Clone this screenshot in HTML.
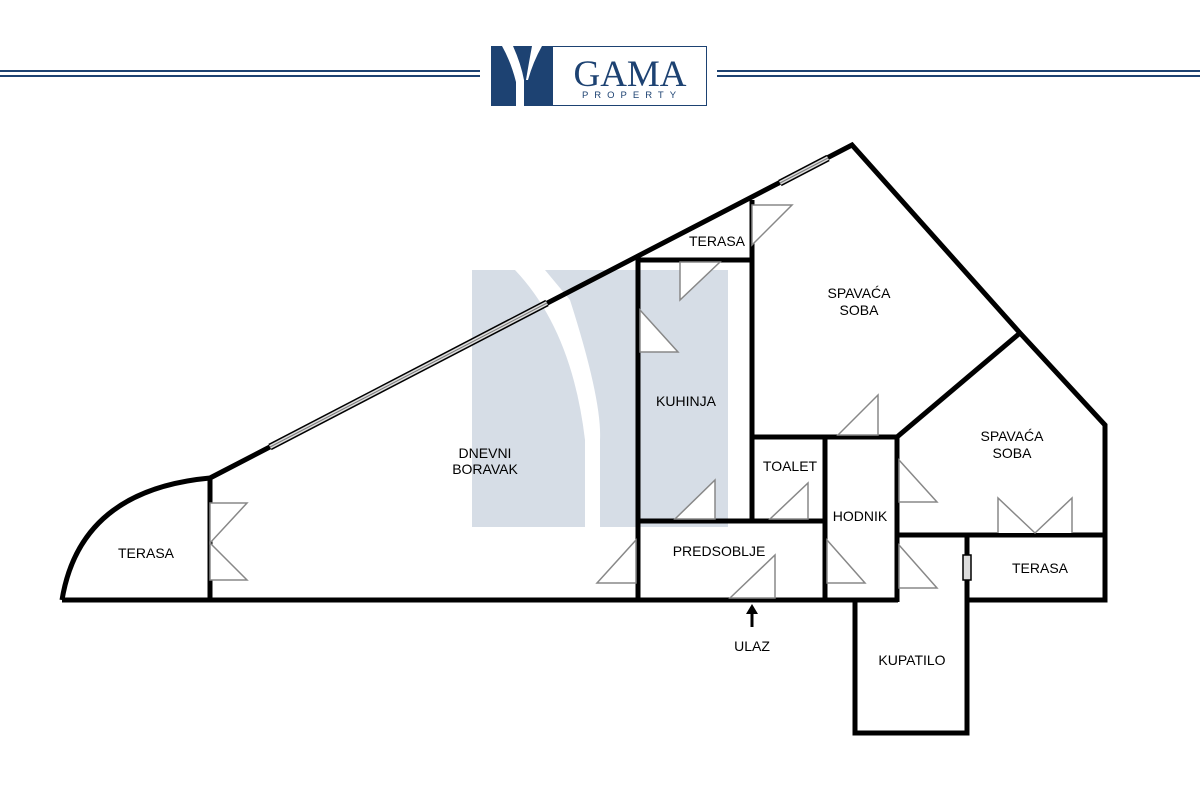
<!DOCTYPE html>
<html><head><meta charset="utf-8"><style>
html,body{margin:0;padding:0;background:#fff;}
svg{display:block;}
text{font-family:"Liberation Sans",sans-serif;}
</style></head><body>
<svg width="1200" height="800" viewBox="0 0 1200 800" xmlns="http://www.w3.org/2000/svg">
<rect width="1200" height="800" fill="#fff"/>
<g stroke="#1d4272" stroke-width="2">
<line x1="0" y1="71" x2="480" y2="71"/><line x1="0" y1="76" x2="480" y2="76"/>
<line x1="717" y1="71" x2="1200" y2="71"/><line x1="717" y1="76" x2="1200" y2="76"/>
</g>
<rect x="491.5" y="46.5" width="215" height="59" fill="#fff" stroke="#1d4272" stroke-width="1"/>
<rect x="491" y="46" width="62" height="60" fill="#1d4272"/>
<path d="M502 46 L513 46 Q521 64 524 80 L524 106 L516 106 L516 82 Q511 62 502 46Z M532 46 L542 46 Q533 62 528 80 L526 80 Q529 62 532 46Z" fill="#fff"/>
<text x="630" y="86" font-size="37" fill="#1d4272" text-anchor="middle" style="font-family:'Liberation Serif',serif">GAMA</text>
<text x="632" y="98" font-size="9.5" fill="#1d4272" text-anchor="middle" letter-spacing="6">PROPERTY</text>
<path d="M472 270 L515 270 Q572 330 585 440 L585 527 L472 527Z" fill="#d6dde6"/>
<path d="M545 270 L728 270 L728 527 L600 527 L600 440 Q602 400 570 300Z" fill="#d6dde6"/>
<g fill="none" stroke="#000" stroke-width="5" stroke-linejoin="miter">
<path d="M62 600 L898 600"/>
<path d="M62 600 Q80 490 210 478 L852 145 L1020 333 L1105 425 L1105 600 L967 600"/>
<path d="M855 600 L855 733 L967 733 L967 535"/>
<line x1="210" y1="478" x2="210" y2="600"/>
<line x1="638" y1="258" x2="638" y2="600"/>
<line x1="636" y1="260" x2="754" y2="260"/>
<line x1="752" y1="200" x2="752" y2="523"/>
<line x1="636" y1="521" x2="827" y2="521"/>
<line x1="750" y1="437" x2="899" y2="437"/>
<line x1="825" y1="435" x2="825" y2="602"/>
<line x1="897" y1="435" x2="897" y2="602"/>
<line x1="1020" y1="333" x2="897" y2="437"/>
<line x1="895" y1="535" x2="1107" y2="535"/>
</g>
<g>
<line x1="270" y1="447" x2="547" y2="303" stroke="#000" stroke-width="7"/>
<line x1="270" y1="447" x2="547" y2="303" stroke="#ddd" stroke-width="4"/>
<line x1="270" y1="447" x2="547" y2="303" stroke="#777" stroke-width="1"/>
<line x1="780" y1="183" x2="828" y2="158" stroke="#000" stroke-width="7"/>
<line x1="780" y1="183" x2="828" y2="158" stroke="#ddd" stroke-width="4"/>
<line x1="780" y1="183" x2="828" y2="158" stroke="#777" stroke-width="1"/>
<rect x="963" y="555" width="8" height="25" fill="#ddd" stroke="#000" stroke-width="1.5"/>
</g>
<g fill="#fff" stroke="#888" stroke-width="1.5">
<polygon points="210,503 247,503 210,543"/>
<polygon points="210,543 247,580 210,580"/>
<polygon points="752,205 792,205 752,245"/>
<polygon points="680,262 720,262 680,300"/>
<polygon points="640,310 678,352 640,352"/>
<polygon points="675,519 715,480 715,519"/>
<polygon points="770,519 808,483 808,519"/>
<polygon points="838,435 878,395 878,435"/>
<polygon points="597,583 636,540 636,583"/>
<polygon points="730,598 775,555 775,598"/>
<polygon points="827,540 865,583 827,583"/>
<polygon points="899,460 937,502 899,502"/>
<polygon points="899,545 937,588 899,588"/>
<polyline points="998,533 998,498 1035,533 1072,498 1072,533"/>
</g>
<line x1="752" y1="627" x2="752" y2="612" stroke="#000" stroke-width="3"/>
<polygon points="746,614 758,614 752,604" fill="#000"/>
<g font-size="14" fill="#000" text-anchor="middle">
<text x="146" y="558">TERASA</text>
<text x="485" y="458">DNEVNI</text>
<text x="485" y="474">BORAVAK</text>
<text x="686" y="406">KUHINJA</text>
<text x="717" y="246">TERASA</text>
<text x="859" y="298">SPAVAĆA</text>
<text x="859" y="315">SOBA</text>
<text x="1012" y="441">SPAVAĆA</text>
<text x="1012" y="458">SOBA</text>
<text x="790" y="471">TOALET</text>
<text x="860" y="521">HODNIK</text>
<text x="719" y="556">PREDSOBLJE</text>
<text x="1040" y="573">TERASA</text>
<text x="912" y="665">KUPATILO</text>
<text x="752" y="651">ULAZ</text>
</g>
</svg>
</body></html>
